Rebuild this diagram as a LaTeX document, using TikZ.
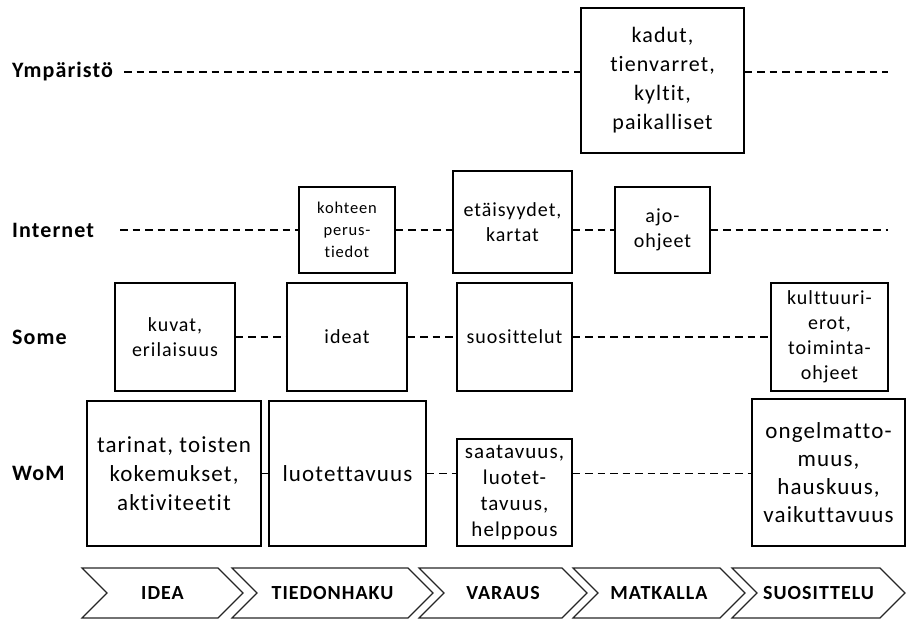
\documentclass[tikz,border=0pt]{standalone}
\usepackage{fontspec}
\setmainfont{Carlito}[Ligatures=NoCommon, LetterSpace=5]
\usetikzlibrary{shapes.symbols,positioning}

\begin{document}
\begin{tikzpicture}[
            x=1pt, y=-1pt,
            box/.style={rectangle, draw=black, line width=1.3pt, align=center, inner sep=0pt, font=\fontsize{20}{25}\selectfont},
            bigbox/.style={box, font=\fontsize{23}{29}\selectfont},
            smallbox/.style={box, font=\fontsize{16.5}{22}\selectfont},
            lane/.style={anchor=west, inner sep=0pt, font=\bfseries\fontsize{22}{26}\selectfont},
            phase/.style={signal, signal from=west, signal to=east, draw=black!85, line width=1.2pt, minimum height=50pt, inner sep=0pt, font=\bfseries\fontsize{20}{24}\selectfont},
            dashline/.style={line width=1.2pt, dash pattern=on 7.5pt off 5pt}
        ]
        \useasboundingbox (0,0) rectangle (907,621);

        % lanes
        \node[lane] (ymp) at (12,72) {Ympäristö};
        \node[lane] (inet) at (12,230) {Internet};
        \node[lane] (some) at (12,337) {Some};
        \node[lane] (wom) at (12,473) {WoM};

        % Ympäristö
        \node[bigbox, font=\fontsize{22}{29}\selectfont, minimum width=163pt, minimum height=145pt] (kadut) at (662.5,80.5) {kadut,\\tienvarret,\\kyltit,\\paikalliset};

        % Internet
        \node[smallbox, minimum width=96pt, minimum height=86pt] (perus) at (347,230) {kohteen\\perus-\\tiedot};
        \node[box, minimum width=119pt, minimum height=102pt] (kartat) at (512.5,222) {etäisyydet,\\kartat};
        \node[box, minimum width=95pt, minimum height=86pt] (ajo) at (662.5,230) {ajo-\\ohjeet};

        % Some
        \node[box, minimum width=120pt, minimum height=108pt] (kuvat) at (175,337) {kuvat,\\erilaisuus};
        \node[box, minimum width=120pt, minimum height=108pt] (ideat) at (347,337) {ideat};
        \node[box, minimum width=115pt, minimum height=108pt] (suos) at (514.5,337) {suosittelut};
        \node[box, minimum width=117pt, minimum height=108pt] (kult) at (829.5,337) {kulttuuri-\\erot,\\toiminta-\\ohjeet};

        % WoM
        \node[bigbox, minimum width=174pt, minimum height=145pt] (tarinat) at (174,473.5) {tarinat, toisten\\kokemukset,\\aktiviteetit};
        \node[bigbox, minimum width=157pt, minimum height=145pt] (luot) at (347.5,473.5) {luotettavuus};
        \node[box, font=\fontsize{21}{25.7}\selectfont, minimum width=115pt, minimum height=107pt] (saat) at (514.5,492.5) {saatavuus,\\luotet-\\tavuus,\\helppous};
        \node[bigbox, font=\fontsize{23}{28}\selectfont, minimum width=153pt, minimum height=147pt] (ongel) at (828.5,472.5) {ongelmatto-\\muus,\\hauskuus,\\vaikuttavuus};

        % phases
        \node[phase, minimum width=161pt] (idea) at (162.5,593) {IDEA};
        \node[phase, minimum width=201pt] (haku) at (332.5,593) {TIEDONHAKU};
        \node[phase, minimum width=168pt] (varaus) at (503,593) {VARAUS};
        \node[phase, minimum width=172pt] (matka) at (659,593) {MATKALLA};
        \node[phase, minimum width=173pt] (suosit) at (818.5,593) {SUOSITTELU};

        % dashed lanes
        \coordinate (ympL) at (124,72);
        \coordinate (ympR) at (888,72);
        \coordinate (inetL) at (120,230);
        \coordinate (inetR) at (888,230);

        \draw[dashline] (ympL) -- (kadut.west |- ympL);
        \draw[dashline] (kadut.east |- ympR) -- (ympR);

        \draw[dashline] (inetL) -- (perus.west);
        \draw[dashline] (perus.east) -- (kartat.west |- perus.east);
        \draw[dashline] (kartat.east |- perus.east) -- (ajo.west);
        \draw[dashline] (ajo.east) -- (inetR);

        \draw[dashline] (kuvat.east) -- (ideat.west);
        \draw[dashline] (ideat.east) -- (suos.west);
        \draw[dashline] (suos.east) -- (kult.west);

        \draw[dashline] (tarinat.east) -- (luot.west);
        \draw[dashline] (luot.east) -- (saat.west |- luot.east);
        \draw[dashline] (saat.east |- luot.east) -- (ongel.west |- luot.east);

\end{tikzpicture}
\end{document}
